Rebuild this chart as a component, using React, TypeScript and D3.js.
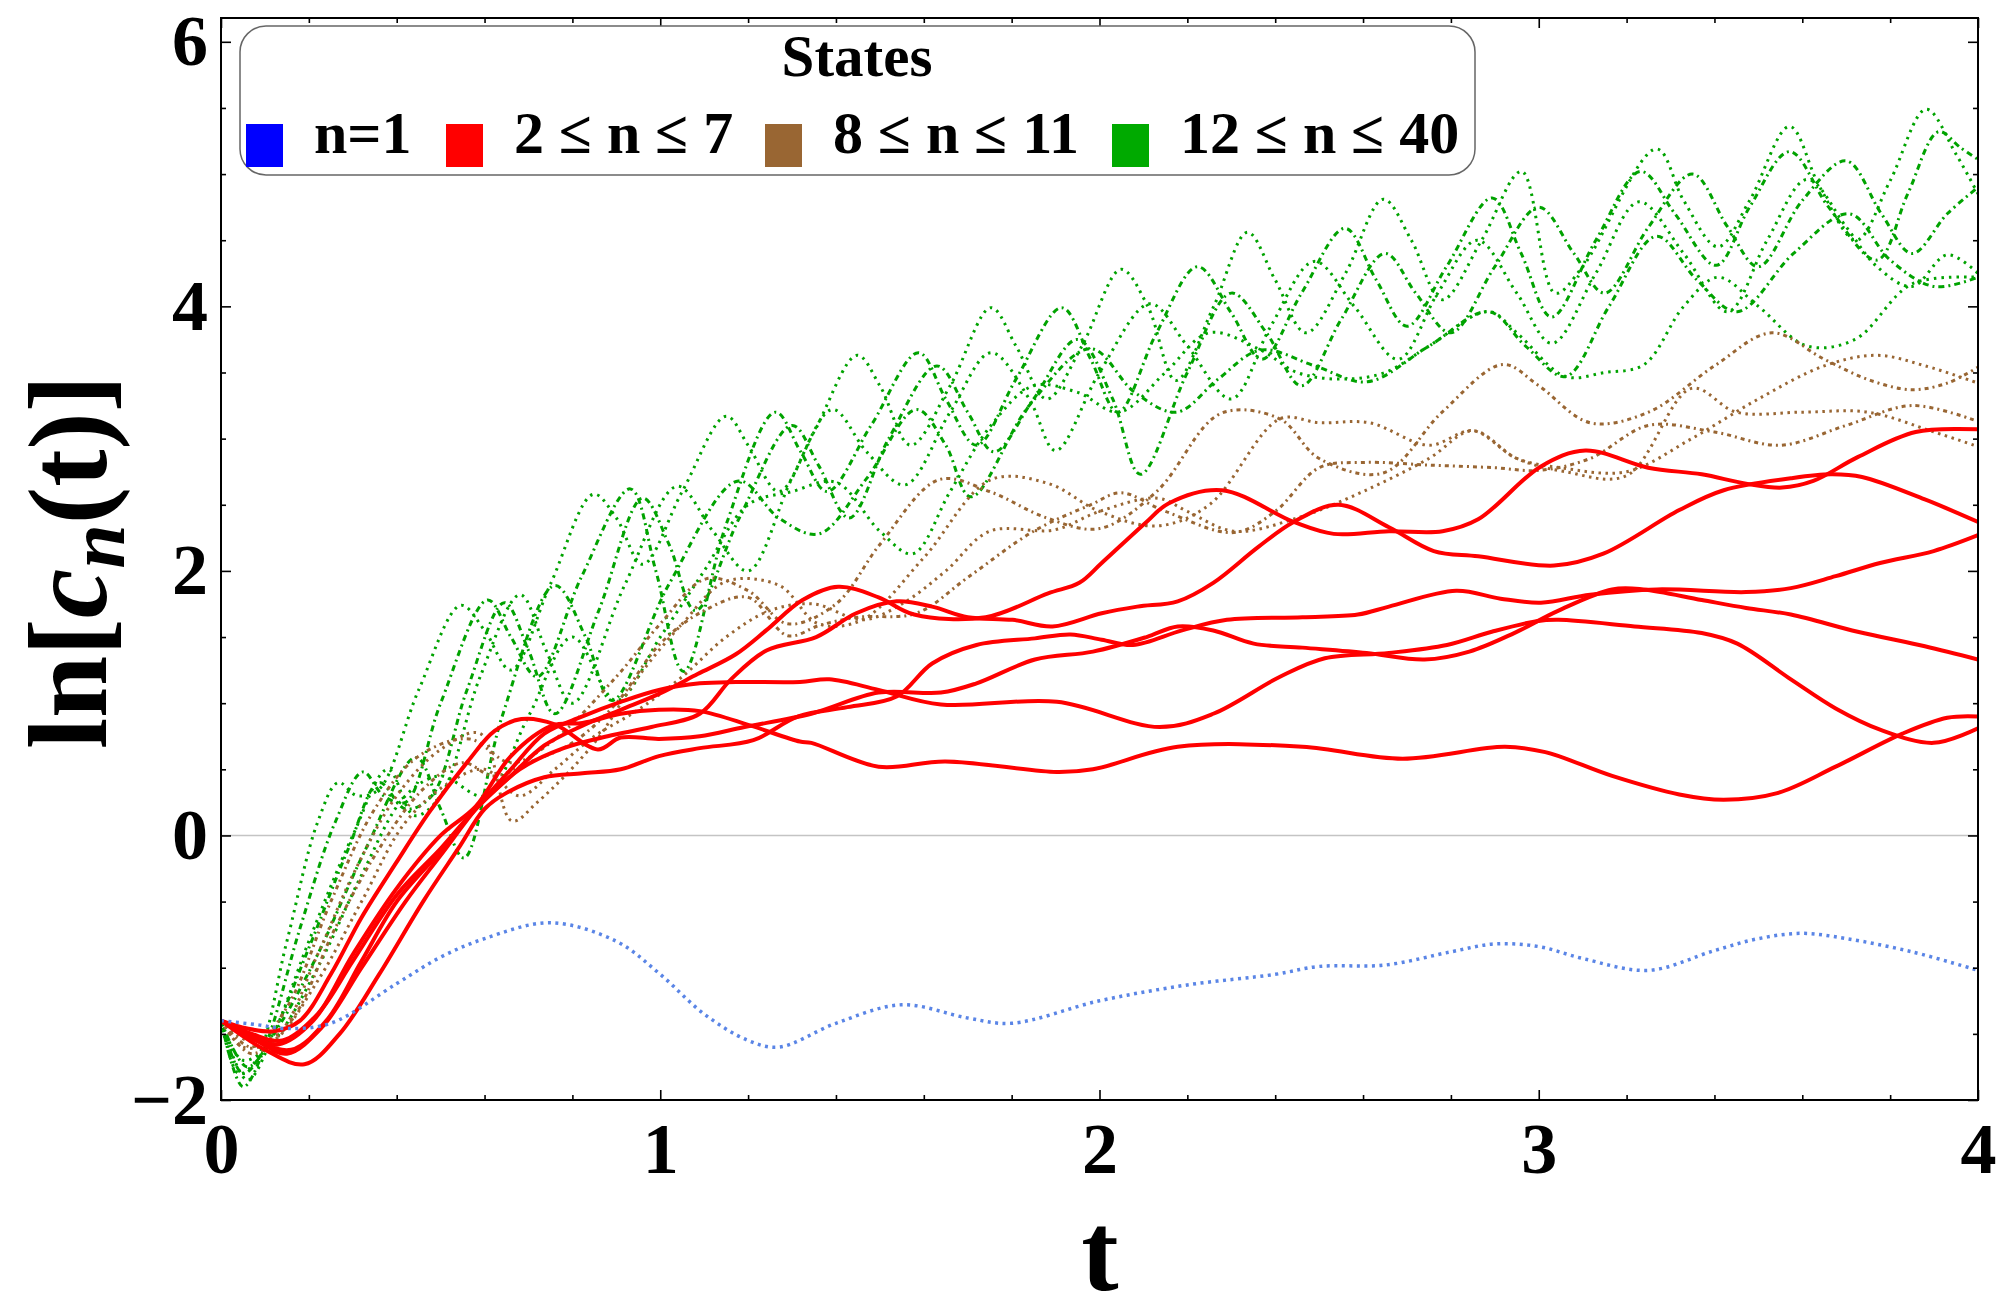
import { useEffect, useRef } from 'react';
import {
  axisBottom,
  axisLeft,
  axisRight,
  axisTop,
  curveCatmullRom,
  line,
  range,
  scaleLinear,
  select,
} from 'd3';
import type { Axis, NumberValue } from 'd3';

type Pt = [number, number];

// n = 1
const stateN1: Pt[] = [
  [0, -1.4], [0.08, -1.43], [0.15, -1.46], [0.25, -1.42], [0.4, -1.12], [0.5, -0.92], [0.6, -0.78],
  [0.75, -0.66], [0.9, -0.8], [1.0, -1.05], [1.1, -1.35], [1.2, -1.55], [1.27, -1.6], [1.4, -1.42],
  [1.55, -1.28], [1.7, -1.38], [1.8, -1.42], [2.0, -1.25], [2.2, -1.13], [2.4, -1.05], [2.5, -0.99],
  [2.65, -0.98], [2.8, -0.88], [2.9, -0.82], [3.0, -0.84], [3.1, -0.93], [3.25, -1.02], [3.4, -0.87],
  [3.5, -0.78], [3.6, -0.74], [3.7, -0.78], [3.85, -0.88], [4.0, -1.02],
];

// 2 <= n <= 7
const redA: Pt[] = [
  [0, -1.4], [0.08, -1.55], [0.16, -1.62], [0.24, -1.4], [0.32, -0.95], [0.4, -0.5], [0.5, -0.12],
  [0.58, 0.2], [0.66, 0.45], [0.736, 0.68], [0.823, 0.83], [0.91, 0.95], [0.997, 1.07], [1.085, 1.22],
  [1.172, 1.37], [1.241, 1.55], [1.324, 1.78], [1.405, 1.88], [1.497, 1.8], [1.578, 1.67], [1.741, 1.65],
  [1.883, 1.83], [1.954, 1.91], [2.005, 2.06], [2.107, 2.37], [2.157, 2.51], [2.279, 2.61], [2.442, 2.37],
  [2.533, 2.28], [2.659, 2.3], [2.781, 2.3], [2.862, 2.39], [3.005, 2.79], [3.106, 2.91], [3.249, 2.78],
  [3.371, 2.73], [3.472, 2.66], [3.554, 2.63], [3.625, 2.68], [3.726, 2.86], [3.858, 3.05], [4.0, 3.07],
];
const redB: Pt[] = [
  [0, -1.4], [0.07, -1.5], [0.14, -1.55], [0.22, -1.35], [0.3, -0.95], [0.4, -0.45], [0.5, -0.1],
  [0.58, 0.2], [0.68, 0.5], [0.78, 0.66], [0.88, 0.75], [0.98, 0.82], [1.09, 0.92], [1.161, 1.18],
  [1.243, 1.4], [1.355, 1.5], [1.446, 1.68], [1.538, 1.77], [1.619, 1.73], [1.7, 1.65], [1.802, 1.63],
  [1.893, 1.58], [2.005, 1.68], [2.086, 1.73], [2.178, 1.77], [2.259, 1.91], [2.361, 2.18], [2.442, 2.37],
  [2.544, 2.5], [2.659, 2.33], [2.761, 2.15], [2.862, 2.11], [3.035, 2.04], [3.147, 2.13], [3.32, 2.46],
  [3.421, 2.61], [3.574, 2.7], [3.665, 2.73], [3.736, 2.71], [3.879, 2.54], [4.0, 2.37],
];
const redC: Pt[] = [
  [0, -1.4], [0.1, -1.62], [0.19, -1.73], [0.27, -1.5], [0.36, -1.05], [0.46, -0.5], [0.54, -0.1],
  [0.6, 0.2], [0.649, 0.32], [0.736, 0.44], [0.823, 0.47], [0.91, 0.5], [0.997, 0.6], [1.09, 0.66],
  [1.212, 0.72], [1.314, 0.9], [1.426, 0.97], [1.538, 1.05], [1.619, 1.3], [1.72, 1.44], [1.853, 1.49],
  [1.934, 1.52], [2.005, 1.48], [2.076, 1.44], [2.188, 1.55], [2.29, 1.63], [2.462, 1.65], [2.588, 1.67],
  [2.659, 1.73], [2.812, 1.85], [2.913, 1.79], [3.005, 1.76], [3.117, 1.82], [3.269, 1.86], [3.472, 1.84],
  [3.574, 1.87], [3.676, 1.96], [3.777, 2.06], [3.899, 2.15], [4.0, 2.27],
];
const redD: Pt[] = [
  [0, -1.4], [0.06, -1.46], [0.12, -1.48], [0.18, -1.4], [0.25, -1.05], [0.32, -0.62], [0.4, -0.2],
  [0.475, 0.18], [0.562, 0.56], [0.623, 0.79], [0.684, 0.88], [0.76, 0.84], [0.858, 0.65], [0.91, 0.74],
  [0.997, 0.73], [1.09, 0.75], [1.192, 0.82], [1.344, 0.92], [1.497, 1.08], [1.639, 1.08], [1.72, 1.15],
  [1.853, 1.33], [1.985, 1.39], [2.107, 1.5], [2.178, 1.58], [2.259, 1.55], [2.351, 1.45], [2.462, 1.42],
  [2.608, 1.38], [2.74, 1.33], [2.842, 1.39], [2.944, 1.53], [3.045, 1.7], [3.167, 1.86], [3.238, 1.86],
  [3.371, 1.78], [3.472, 1.72], [3.574, 1.67], [3.726, 1.54], [3.879, 1.43], [4.0, 1.33],
];
const redE: Pt[] = [
  [0, -1.4], [0.07, -1.52], [0.13, -1.58], [0.21, -1.4], [0.3, -0.9], [0.4, -0.4], [0.5, 0.0],
  [0.58, 0.22], [0.66, 0.6], [0.754, 0.83], [0.823, 0.85], [0.91, 0.92], [0.997, 0.95], [1.09, 0.94],
  [1.206, 0.83], [1.318, 0.71], [1.344, 0.7], [1.497, 0.52], [1.649, 0.56], [1.903, 0.48], [1.985, 0.5],
  [2.178, 0.67], [2.462, 0.67], [2.69, 0.58], [2.923, 0.67], [3.015, 0.63], [3.167, 0.45], [3.32, 0.31],
  [3.421, 0.27], [3.543, 0.32], [3.676, 0.52], [3.828, 0.77], [3.93, 0.89], [4.0, 0.9],
];
const redF: Pt[] = [
  [0, -1.4], [0.08, -1.55], [0.15, -1.65], [0.23, -1.45], [0.32, -1.0], [0.42, -0.5], [0.5, -0.15],
  [0.58, 0.2], [0.66, 0.5], [0.736, 0.77], [0.823, 0.9], [0.91, 1.01], [0.997, 1.1], [1.09, 1.15],
  [1.172, 1.16], [1.318, 1.16], [1.385, 1.18], [1.497, 1.1], [1.639, 0.99], [1.903, 1.01], [2.137, 0.82],
  [2.259, 0.92], [2.411, 1.2], [2.513, 1.34], [2.659, 1.38], [2.791, 1.44], [2.893, 1.54], [2.995, 1.62],
  [3.045, 1.63], [3.218, 1.58], [3.371, 1.53], [3.452, 1.45], [3.574, 1.18], [3.676, 0.96], [3.777, 0.8],
  [3.899, 0.7], [4.0, 0.81],
];

// 8 <= n <= 11
const brownA: Pt[] = [
  [0, -1.4], [0.07, -1.6], [0.15, -1.3], [0.25, -0.5], [0.35, 0.2], [0.45, 0.6], [0.565, 0.73],
  [0.66, 0.55], [0.75, 0.7], [0.9, 1.2], [1.0, 1.6], [1.104, 1.94], [1.2, 1.85], [1.29, 1.6],
  [1.4, 1.75], [1.5, 2.2], [1.635, 2.69], [1.75, 2.6], [1.88, 2.4], [2.0, 2.32], [2.13, 2.6],
  [2.276, 3.19], [2.41, 3.15], [2.5, 2.85], [2.646, 2.74], [2.78, 3.2], [2.918, 3.56], [3.0, 3.4],
  [3.117, 3.12], [3.25, 3.2], [3.4, 3.55], [3.531, 3.8], [3.65, 3.6], [3.755, 3.44], [3.85, 3.37],
  [3.93, 3.42], [4.0, 3.54],
];
const brownB: Pt[] = [
  [0, -1.4], [0.06, -1.55], [0.13, -1.5], [0.22, -0.9], [0.3, -0.3], [0.4, 0.3], [0.5, 0.65],
  [0.59, 0.77], [0.662, 0.11], [0.72, 0.25], [0.85, 0.7], [0.95, 1.2], [1.05, 1.6], [1.15, 1.92],
  [1.271, 1.89], [1.36, 1.6], [1.46, 1.63], [1.6, 2.1], [1.753, 2.69], [1.884, 2.66], [2.0, 2.45],
  [2.132, 2.34], [2.25, 2.5], [2.411, 3.15], [2.5, 3.12], [2.615, 3.12], [2.75, 2.95], [2.85, 3.06],
  [2.95, 2.85], [3.05, 2.78], [3.2, 2.75], [3.348, 3.0], [3.5, 3.3], [3.65, 3.55], [3.77, 3.63],
  [3.88, 3.55], [4.0, 3.42],
];
const brownC: Pt[] = [
  [0, -1.4], [0.07, -1.65], [0.16, -1.4], [0.26, -0.7], [0.36, -0.1], [0.46, 0.35], [0.55, 0.55],
  [0.62, 0.45], [0.7, 0.55], [0.8, 0.7], [0.9, 1.0], [1.0, 1.45], [1.1, 1.7], [1.2, 1.8], [1.29, 1.51],
  [1.364, 1.59], [1.45, 1.65], [1.583, 1.68], [1.7, 1.95], [1.85, 2.3], [1.98, 2.5], [2.049, 2.59],
  [2.15, 2.45], [2.306, 2.29], [2.4, 2.45], [2.5, 2.78], [2.6, 2.82], [2.75, 2.8], [2.9, 2.78],
  [3.0, 2.76], [3.117, 2.85], [3.25, 3.1], [3.4, 3.05], [3.55, 2.95], [3.7, 3.1], [3.85, 3.25], [4.0, 3.13],
];
const brownD: Pt[] = [
  [0, -1.4], [0.05, -1.6], [0.12, -1.55], [0.22, -1.1], [0.32, -0.5], [0.42, 0.1], [0.52, 0.4],
  [0.6, 0.5], [0.68, 0.3], [0.76, 0.5], [0.85, 0.75], [0.95, 0.95], [1.05, 1.2], [1.15, 1.5],
  [1.25, 1.7], [1.35, 1.75], [1.461, 1.63], [1.55, 1.75], [1.65, 2.0], [1.75, 2.3], [1.897, 2.31],
  [2.0, 2.45], [2.132, 2.55], [2.2, 2.45], [2.306, 2.3], [2.45, 2.4], [2.6, 2.6], [2.75, 2.85],
  [2.85, 3.06], [2.95, 2.85], [3.06, 2.75], [3.2, 2.72], [3.348, 3.38], [3.45, 3.2], [3.6, 3.2],
  [3.75, 3.2], [3.9, 3.05], [4.0, 2.94],
];

// 12 <= n <= 40
const greenA: Pt[] = [
  [0, -1.4], [0.04, -1.8], [0.08, -1.7], [0.15, -0.8], [0.22, 0.1], [0.267, 0.4], [0.31, 0.3],
  [0.36, 0.35], [0.45, 1.1], [0.546, 1.74], [0.6, 1.55], [0.66, 1.25], [0.75, 1.9], [0.848, 2.58],
  [0.9, 2.4], [0.96, 2.05], [1.05, 2.6], [1.15, 3.17], [1.2, 2.95], [1.27, 2.6], [1.35, 3.05],
  [1.448, 3.63], [1.5, 3.4], [1.57, 2.95], [1.66, 3.4], [1.753, 3.99], [1.81, 3.7], [1.88, 3.3],
  [1.96, 3.7], [2.049, 4.28], [2.11, 4.0], [2.174, 3.44], [2.26, 4.0], [2.337, 4.56], [2.4, 4.2],
  [2.47, 3.8], [2.56, 4.25], [2.646, 4.81], [2.71, 4.5], [2.78, 4.05], [2.87, 4.5], [2.961, 5.02],
  [3.037, 4.1], [3.1, 4.3], [3.268, 5.19], [3.33, 4.8], [3.408, 4.45], [3.48, 4.8], [3.571, 5.36],
  [3.64, 4.9], [3.723, 4.5], [3.8, 4.95], [3.882, 5.49], [3.95, 5.15], [4.0, 4.85],
];
const greenB: Pt[] = [
  [0, -1.4], [0.05, -1.9], [0.1, -1.6], [0.18, -0.7], [0.26, 0.1], [0.323, 0.48], [0.37, 0.3],
  [0.42, 0.25], [0.5, 1.0], [0.607, 1.78], [0.66, 1.5], [0.72, 1.2], [0.82, 1.95], [0.932, 2.62],
  [0.99, 2.0], [1.053, 1.24], [1.15, 2.35], [1.262, 3.2], [1.32, 2.9], [1.38, 2.6], [1.48, 3.1],
  [1.588, 3.65], [1.65, 3.3], [1.72, 2.95], [1.81, 3.45], [1.914, 3.99], [1.98, 3.6], [2.042, 3.2],
  [2.13, 3.8], [2.223, 4.3], [2.3, 3.95], [2.37, 3.6], [2.46, 4.1], [2.559, 4.59], [2.63, 4.2],
  [2.7, 3.85], [2.79, 4.3], [2.894, 4.82], [2.96, 4.4], [3.029, 3.92], [3.13, 4.5], [3.232, 5.02],
  [3.31, 4.7], [3.404, 4.31], [3.48, 4.75], [3.571, 5.17], [3.66, 4.75], [3.77, 4.35], [3.84, 4.85],
  [3.91, 5.32], [3.96, 5.2], [4.0, 5.11],
];
const greenC: Pt[] = [
  [0, -1.4], [0.06, -1.85], [0.12, -1.5], [0.2, -0.8], [0.3, 0.0], [0.38, 0.5], [0.44, 0.15],
  [0.5, 0.3], [0.59, 1.2], [0.681, 1.82], [0.74, 1.4], [0.8, 1.0], [0.92, 1.9], [1.039, 2.64],
  [1.12, 2.3], [1.2, 2.0], [1.3, 2.7], [1.392, 3.22], [1.47, 2.9], [1.557, 2.65], [1.66, 3.2],
  [1.753, 3.65], [1.84, 3.3], [1.9, 2.91], [2.0, 3.5], [2.115, 4.02], [2.2, 3.7], [2.3, 3.3],
  [2.39, 3.85], [2.489, 4.34], [2.58, 4.0], [2.68, 3.6], [2.77, 4.1], [2.86, 4.5], [2.95, 4.1],
  [3.03, 3.72], [3.13, 4.25], [3.228, 4.79], [3.33, 4.4], [3.43, 3.96], [3.52, 4.5], [3.611, 4.96],
  [3.7, 4.6], [3.77, 4.3], [3.85, 4.15], [3.93, 4.39], [4.0, 4.25],
];
const greenD: Pt[] = [
  [0, -1.4], [0.06, -1.75], [0.13, -1.45], [0.22, -0.9], [0.33, -0.1], [0.444, 0.59], [0.5, 0.2],
  [0.553, -0.17], [0.64, 0.9], [0.76, 1.89], [0.83, 1.5], [0.89, 1.02], [1.02, 1.9], [1.178, 2.68],
  [1.27, 2.4], [1.361, 2.28], [1.47, 2.7], [1.583, 3.22], [1.65, 2.95], [1.707, 2.56], [1.84, 3.25],
  [1.98, 3.68], [2.08, 3.35], [2.176, 3.2], [2.27, 3.45], [2.367, 3.67], [2.49, 3.55], [2.61, 3.43],
  [2.75, 3.7], [2.886, 3.96], [2.97, 3.7], [3.061, 3.47], [3.16, 4.0], [3.268, 4.53], [3.36, 4.2],
  [3.452, 3.96], [3.58, 4.4], [3.707, 4.7], [3.8, 4.35], [3.9, 4.15], [4.0, 4.22],
];
const greenE: Pt[] = [
  [0, -1.4], [0.05, -1.7], [0.12, -1.55], [0.22, -1.0], [0.32, -0.3], [0.42, 0.3], [0.5, 0.45],
  [0.6, 0.3], [0.7, 0.9], [0.8, 1.5], [0.9, 1.02], [1.0, 1.5], [1.1, 2.0], [1.2, 2.5], [1.3, 2.6],
  [1.4, 2.67], [1.5, 2.3], [1.575, 2.13], [1.66, 2.6], [1.753, 3.1], [1.85, 3.4], [1.95, 3.35],
  [2.045, 3.2], [2.15, 3.5], [2.25, 3.8], [2.367, 3.67], [2.45, 3.5], [2.55, 3.45], [2.65, 3.5],
  [2.75, 3.7], [2.886, 3.96], [2.95, 3.8], [3.061, 3.47], [3.15, 3.5], [3.24, 3.56], [3.33, 4.0],
  [3.408, 4.22], [3.5, 4.0], [3.611, 3.7], [3.72, 3.75], [3.85, 4.17], [4.0, 4.22],
];
const greenF: Pt[] = [
  [0, -1.4], [0.05, -1.8], [0.11, -1.55], [0.2, -0.85], [0.29, -0.1], [0.36, 0.4], [0.42, 0.2],
  [0.48, 0.3], [0.56, 1.1], [0.645, 1.76], [0.7, 1.4], [0.76, 0.92], [0.86, 1.7], [0.96, 2.55],
  [1.02, 2.2], [1.08, 1.7], [1.18, 2.4], [1.3, 3.1], [1.36, 2.8], [1.43, 2.4], [1.52, 3.0],
  [1.63, 3.55], [1.7, 3.2], [1.76, 2.9], [1.85, 3.3], [1.95, 3.75], [2.03, 3.3], [2.093, 2.73],
  [2.2, 3.5], [2.3, 4.1], [2.38, 3.8], [2.46, 3.4], [2.55, 3.9], [2.65, 4.4], [2.72, 4.1],
  [2.8, 3.8], [2.9, 4.3], [3.0, 4.75], [3.08, 4.4], [3.15, 4.1], [3.25, 4.6], [3.35, 5.0],
  [3.43, 4.6], [3.5, 4.3], [3.6, 4.8], [3.7, 5.1], [3.78, 4.7], [3.85, 4.4], [3.93, 4.7], [4.0, 4.9],
];

const redSeries = [redA, redB, redC, redD, redE, redF];
const brownSeries = [brownA, brownB, brownC, brownD];
const greenSeries = [greenA, greenB, greenC, greenD, greenE, greenF];

const xMajorTicks = [0, 1, 2, 3, 4];
const yMajorTicks = [-2, 0, 2, 4, 6];

const legendLabels = ['n=1', '2 ≤ n ≤ 7', '8 ≤ n ≤ 11', '12 ≤ n ≤ 40'];
const legendColors = ['#0000ff', '#ff0000', '#996633', '#00aa00'];

const FONT = '"Liberation Serif", "Times New Roman", serif';

const width = 2000;
const height = 1314;
const plot = { left: 221, right: 1978, top: 18, bottom: 1100 };

const x = scaleLinear().domain([0, 4]).range([plot.left, plot.right]);
const y = scaleLinear().domain([-2, 6.18]).range([plot.bottom, plot.top]);

const path = line<Pt>()
  .x((d) => x(d[0]))
  .y((d) => y(d[1]))
  .curve(curveCatmullRom.alpha(0.5));

const Axis = ({
  axis,
  transform,
  labels,
}: {
  axis: Axis<NumberValue>;
  transform: string;
  labels?: boolean;
}) => {
  const ref = useRef<SVGGElement>(null);

  useEffect(() => {
    if (ref.current) {
      const g = select(ref.current);
      g.call(axis);
      g.select('.domain').remove();
      g.selectAll('.tick line').attr('stroke', '#000').attr('stroke-width', 1.6);
      g.selectAll('.tick text')
        .attr('font-family', FONT)
        .attr('font-weight', 'bold')
        .attr('font-size', 72)
        .attr('fill', '#000')
        .style('display', labels ? null : 'none');
    }
  }, [axis, labels]);

  return <g ref={ref} transform={transform} />;
};

const minorX = range(0, 4.001, 0.2).filter((v) => Math.abs(v - Math.round(v)) > 1e-6);
const minorY = range(-2, 6.001, 0.5).filter((v) => Math.abs(v / 2 - Math.round(v / 2)) > 1e-6);

export default function App() {
  const legendItemX = [246, 446, 765, 1112];

  return (
    <svg
      width={width}
      height={height}
      style={{ position: 'absolute', left: 0, top: 0, background: '#fff' }}
    >
      <defs>
        <clipPath id="plot-clip">
          <rect x={plot.left} y={plot.top} width={plot.right - plot.left} height={plot.bottom - plot.top} />
        </clipPath>
      </defs>

      {/* zero axis */}
      <line x1={plot.left} x2={plot.right} y1={y(0)} y2={y(0)} stroke="#c4c4c4" strokeWidth={1.5} />

      <g clipPath="url(#plot-clip)" fill="none">
        {greenSeries.map((s, i) => (
          <path
            key={`g-${i}`}
            d={path(s) ?? ''}
            stroke="#00a300"
            strokeWidth={3}
            strokeDasharray={i % 2 === 0 ? '2.5 5' : '6 4 2 4'}
          />
        ))}
        {brownSeries.map((s, i) => (
          <path
            key={`b-${i}`}
            d={path(s) ?? ''}
            stroke="#996633"
            strokeWidth={3}
            strokeDasharray={i % 2 === 0 ? '4 4 2 4' : '2.5 4.5'}
          />
        ))}
        {redSeries.map((s, i) => (
          <path key={`r-${i}`} d={path(s) ?? ''} stroke="#ff0000" strokeWidth={4} />
        ))}
        <path d={path(stateN1) ?? ''} stroke="#5a85e6" strokeWidth={3.5} strokeDasharray="3 4.5" />
      </g>

      {/* frame */}
      <rect
        x={plot.left}
        y={plot.top}
        width={plot.right - plot.left}
        height={plot.bottom - plot.top}
        fill="none"
        stroke="#000"
        strokeWidth={2}
      />

      <Axis
        axis={axisBottom(x).tickValues(xMajorTicks).tickSize(-10).tickPadding(22).tickFormat((d) => String(d))}
        transform={`translate(0,${plot.bottom})`}
        labels
      />
      <Axis axis={axisBottom(x).tickValues(minorX).tickSize(-5)} transform={`translate(0,${plot.bottom})`} />
      <Axis axis={axisTop(x).tickValues(xMajorTicks).tickSize(-10)} transform={`translate(0,${plot.top})`} />
      <Axis axis={axisTop(x).tickValues(minorX).tickSize(-5)} transform={`translate(0,${plot.top})`} />
      <Axis
        axis={axisLeft(y).tickValues(yMajorTicks).tickSize(-10).tickPadding(13)}
        transform={`translate(${plot.left},0)`}
        labels
      />
      <Axis axis={axisLeft(y).tickValues(minorY).tickSize(-5)} transform={`translate(${plot.left},0)`} />
      <Axis axis={axisRight(y).tickValues(yMajorTicks).tickSize(-10)} transform={`translate(${plot.right},0)`} />
      <Axis axis={axisRight(y).tickValues(minorY).tickSize(-5)} transform={`translate(${plot.right},0)`} />

      {/* axis titles */}
      <text
        x={1100}
        y={1290}
        textAnchor="middle"
        fontFamily={FONT}
        fontWeight="bold"
        fontSize={112}
      >
        t
      </text>
      <text
        transform="translate(106,562) rotate(-90)"
        textAnchor="middle"
        fontFamily={FONT}
        fontWeight="bold"
        fontSize={112}
      >
        ln[
        <tspan fontStyle="italic">c</tspan>
        <tspan fontStyle="italic" fontSize={80} dy={18}>
          n
        </tspan>
        <tspan dy={-18}>(t)]</tspan>
      </text>

      {/* legend */}
      <g fontFamily={FONT} fontWeight="bold">
        <rect x={240} y={26} width={1235} height={149} rx={26} fill="#fff" stroke="#666" strokeWidth={1.5} />
        <text x={857} y={76} textAnchor="middle" fontSize={59}>
          States
        </text>
        {legendLabels.map((label, i) => (
          <g key={label} transform={`translate(${legendItemX[i]},0)`}>
            <rect x={0} y={124} width={37} height={43} fill={legendColors[i]} />
            <text x={68} y={153} fontSize={60}>
              {label}
            </text>
          </g>
        ))}
      </g>
    </svg>
  );
}
